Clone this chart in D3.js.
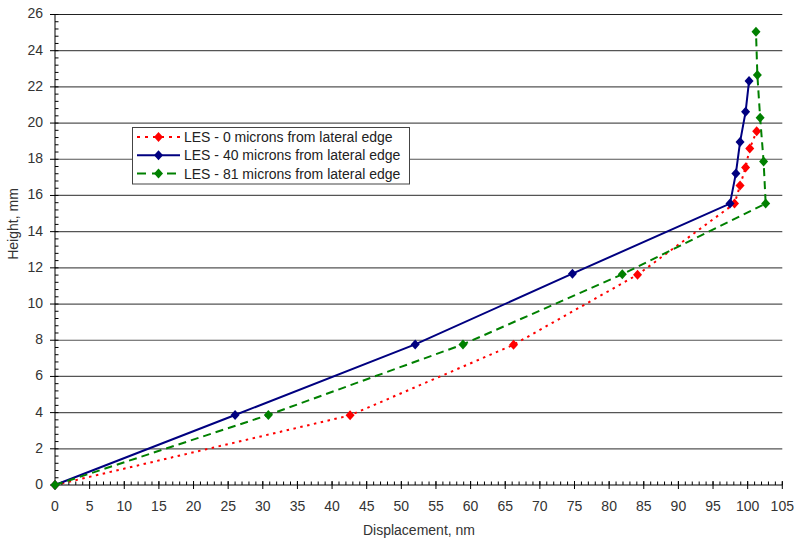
<!DOCTYPE html>
<html>
<head>
<meta charset="utf-8">
<script src="https://cdn.jsdelivr.net/npm/d3@7"></script>
<style>
html,body{margin:0;padding:0;background:#fff;}
svg{display:block;font-family:"Liberation Sans",Arial,sans-serif;}
</style>
</head>
<body>
<svg id="chart" width="800" height="543"></svg>
<script>
const seriesNames = ["LES - 0 microns from lateral edge","LES - 40 microns from lateral edge","LES - 81 microns from lateral edge"];
const redX = [0, 42.6, 66.2, 84.1, 98.1, 98.9, 99.7, 100.3, 101.3];
const redY = [0, 3.85, 7.75, 11.62, 15.55, 16.55, 17.55, 18.6, 19.55];
const blueX = [0, 26.0, 52.0, 74.7, 97.45, 98.3, 98.9, 99.7, 100.2];
const blueY = [0, 3.87, 7.77, 11.68, 15.55, 17.22, 18.95, 20.62, 22.32];
const greenX = [0, 30.8, 58.9, 81.9, 102.6, 102.3, 101.8, 101.4, 101.2];
const greenY = [0, 3.87, 7.77, 11.64, 15.55, 17.88, 20.3, 22.65, 25.05];
const xTicks = d3.range(0, 106, 5);
const yTicks = d3.range(0, 27, 2);

const svg = d3.select("#chart");
const x = d3.scaleLinear().domain([0, 105]).range([55, 782.3]);
const y = d3.scaleLinear().domain([0, 26]).range([485, 14.5]);

// gridlines
svg.append("g").selectAll("line").data(yTicks.filter(d => d > 0)).join("line")
  .attr("x1", x(0)).attr("x2", x(105))
  .attr("y1", d => y(d)).attr("y2", d => y(d))
  .attr("stroke", d => d === 26 ? "#222" : "#555").attr("stroke-width", 1.2);

// y axis
const yAx = svg.append("g");
yAx.append("line").attr("x1", x(0)).attr("x2", x(0)).attr("y1", y(0)).attr("y2", y(26)).attr("stroke", "#000");
yAx.selectAll(".ymin").data(d3.range(0, 26.01, 0.4)).join("line")
  .attr("x1", x(0)).attr("x2", x(0) + 3.5).attr("y1", d => y(d)).attr("y2", d => y(d)).attr("stroke", "#000");
yAx.selectAll(".ymaj").data(yTicks).join("line")
  .attr("x1", x(0) - 5).attr("x2", x(0)).attr("y1", d => y(d)).attr("y2", d => y(d)).attr("stroke", "#000");
yAx.selectAll("text").data(yTicks).join("text")
  .attr("x", x(0) - 12).attr("y", d => y(d) - 1).attr("dy", "0.35em")
  .attr("text-anchor", "end").attr("font-size", 14).attr("fill", "#333").text(d => d);

// x axis
const xAx = svg.append("g");
xAx.append("line").attr("x1", x(0)).attr("x2", x(105)).attr("y1", y(0)).attr("y2", y(0)).attr("stroke", "#000");
xAx.selectAll(".xmin").data(d3.range(0, 105.5, 1)).join("line")
  .attr("x1", d => x(d)).attr("x2", d => x(d)).attr("y1", y(0) - 3.5).attr("y2", y(0)).attr("stroke", "#000");
xAx.selectAll(".xmaj").data(xTicks).join("line")
  .attr("x1", d => x(d)).attr("x2", d => x(d)).attr("y1", y(0) - 4).attr("y2", y(0) + 4).attr("stroke", "#000");
xAx.selectAll("text").data(xTicks).join("text")
  .attr("x", d => x(d)).attr("y", y(0) + 26)
  .attr("text-anchor", "middle").attr("font-size", 14).attr("fill", "#333").text(d => d);

// axis titles
svg.append("text").attr("x", 419).attr("y", 535).attr("text-anchor", "middle")
  .attr("font-size", 14).attr("fill", "#333").text("Displacement, nm");
svg.append("text").attr("transform", "translate(18,224) rotate(-90)").attr("text-anchor", "middle")
  .attr("font-size", 14).attr("fill", "#333").text("Height, mm");

const series = [
  {name: seriesNames[0], xs: redX, ys: redY, color: "#ff0000", dash: "2.5,4.5"},
  {name: seriesNames[1], xs: blueX, ys: blueY, color: "#000080", dash: null},
  {name: seriesNames[2], xs: greenX, ys: greenY, color: "#008000", dash: "8,5"}
];
const diamond = "M0,-5L4.5,0L0,5L-4.5,0Z";
const line = d3.line().x(d => x(d[0])).y(d => y(d[1]));

series.forEach(s => {
  const pts = s.xs.map((v, i) => [v, s.ys[i]]);
  svg.append("path").datum(pts).attr("d", line)
    .attr("fill", "none").attr("stroke", s.color).attr("stroke-width", 2)
    .attr("stroke-dasharray", s.dash);
  svg.append("g").selectAll("path").data(pts).join("path")
    .attr("d", diamond).attr("transform", d => `translate(${x(d[0])},${y(d[1])})`)
    .attr("fill", s.color);
});

// legend
const lg = svg.append("g");
lg.append("rect").attr("x", 132.5).attr("y", 127.5).attr("width", 277).attr("height", 56.5)
  .attr("fill", "#fff").attr("stroke", "#444").attr("stroke-width", 1);
series.forEach((s, i) => {
  const yy = 137 + i * 18.3;
  lg.append("line").attr("x1", 137).attr("x2", 180).attr("y1", yy).attr("y2", yy)
    .attr("stroke", s.color).attr("stroke-width", 2).attr("stroke-dasharray", s.dash ? (i === 0 ? "3,5" : "9,6") : null);
  lg.append("path").attr("d", diamond).attr("transform", `translate(158.5,${yy})`).attr("fill", s.color);
  lg.append("text").attr("x", 184).attr("y", yy).attr("dy", "0.35em").attr("font-size", 14)
    .attr("fill", "#222").text(s.name);
});
</script>
</body>
</html>
